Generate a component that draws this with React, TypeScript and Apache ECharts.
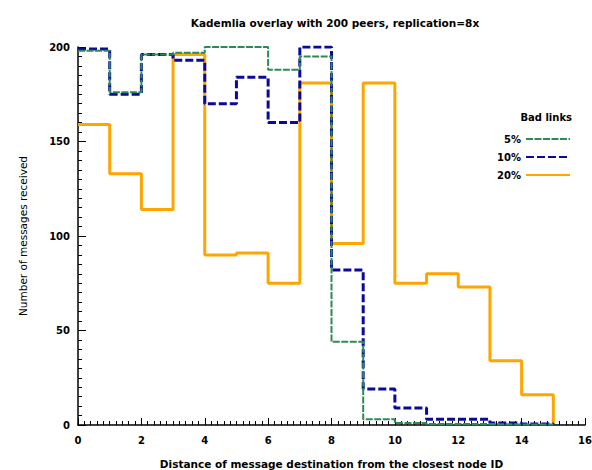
import React, { useEffect, useRef } from "react";
import * as echarts from "echarts";

const binStarts = [0, 1, 2, 3, 4, 5, 6, 7, 8, 9, 10, 11, 12, 13, 14];
const endX = 15;
const links5 = [198, 176, 196, 197, 200, 200, 188, 195, 44, 3, 1, 0.5, 0.5, 0.3, 0.2];
const links10 = [199, 175, 196, 193, 170, 184, 160, 200, 82, 19, 9, 3, 3, 1, 0.5];
const links20 = [159, 133, 114, 196, 90, 91, 75, 181, 96, 181, 75, 80, 73, 34, 16];
const xTicks = [0, 2, 4, 6, 8, 10, 12, 14, 16];
const yTicks = [0, 50, 100, 150, 200];

function stepData(vals: number[]) {
  const d: number[][] = binStarts.map((x, i) => [x, vals[i]]);
  d.push([endX, 0]);
  return d;
}

const font = "DejaVu Sans";

export default function App() {
  const ref = useRef<HTMLDivElement>(null);
  useEffect(() => {
    if (!ref.current) return;
    const chart = echarts.init(ref.current, undefined, { renderer: "svg" });
    chart.setOption({
      animation: false,
      backgroundColor: "#fff",
      title: {
        text: "Kademlia overlay with 200 peers, replication=8x",
        left: 330,
        textAlign: "center",
        top: 12,
        textStyle: { fontFamily: font, fontSize: 10.5, fontWeight: "bold", color: "#000" },
      },
      grid: { left: 78, right: 7, top: 47, bottom: 45, outerBoundsMode: "none", containLabel: false },
      legend: {
        orient: "vertical",
        right: 16,
        top: 129,
        align: "right",
        itemWidth: 44,
        itemHeight: 10,
        itemGap: 8,
        itemStyle: { opacity: 0 },
        textStyle: { fontFamily: font, fontSize: 10, fontWeight: "bold", color: "#000" },
        data: ["5%", "10%", "20%"],
      },
      graphic: [
        {
          type: "text",
          right: 20,
          top: 112,
          style: { text: "Bad links", fontFamily: font, fontSize: 10, fontWeight: "bold", fill: "#000" },
        },
      ],
      xAxis: {
        type: "value",
        min: 0,
        max: 16,
        interval: 2,
        name: "Distance of message destination from the closest node ID",
        nameLocation: "middle",
        nameGap: 33,
        nameTextStyle: { fontFamily: font, fontSize: 10.5, fontWeight: "bold", color: "#000" },
        axisLine: { show: true, lineStyle: { color: "#000", width: 1.5 } },
        axisTick: { show: true, inside: true, length: 7, lineStyle: { color: "#000" } },
        minorTick: { show: true, splitNumber: 10, length: 4, lineStyle: { color: "#000" } },
        splitLine: { show: false },
        axisLabel: {
          margin: 10,
          fontFamily: font,
          fontSize: 10,
          fontWeight: "bold",
          color: "#000",
          formatter: (v: number) => (xTicks.includes(v) ? String(v) : ""),
        },
      },
      yAxis: {
        type: "value",
        min: 0,
        max: 200,
        interval: 50,
        name: "Number of messages received",
        nameLocation: "middle",
        nameGap: 50,
        nameRotate: 90,
        nameTextStyle: { fontFamily: font, fontSize: 10.5, color: "#000" },
        axisLine: { show: true, lineStyle: { color: "#000", width: 1.5 } },
        axisTick: { show: true, inside: true, length: 8, lineStyle: { color: "#000" } },
        minorTick: { show: true, splitNumber: 10, length: 4, lineStyle: { color: "#000" } },
        splitLine: { show: false },
        axisLabel: {
          margin: 8,
          fontFamily: font,
          fontSize: 10,
          fontWeight: "bold",
          color: "#000",
          formatter: (v: number) => (yTicks.includes(v) ? String(v) : ""),
        },
      },
      series: [
        {
          name: "5%",
          type: "line",
          step: "end",
          symbol: "none",
          data: stepData(links5),
          color: "#2e8b57",
          lineStyle: { color: "#2e8b57", width: 2, type: [7, 1.5] },
          z: 4,
        },
        {
          name: "10%",
          type: "line",
          step: "end",
          symbol: "none",
          data: stepData(links10),
          color: "#0a0a9a",
          lineStyle: { color: "#0a0a9a", width: 3, type: [8, 3] },
          z: 3,
        },
        {
          name: "20%",
          type: "line",
          step: "end",
          symbol: "none",
          data: stepData(links20),
          color: "#ffa500",
          lineStyle: { color: "#ffa500", width: 3 },
          z: 2,
        },
      ],
    });
    return () => chart.dispose();
  }, []);
  return (
    <div
      ref={ref}
      style={{ position: "fixed", left: 0, top: 0, width: 592, height: 470 }}
    />
  );
}
